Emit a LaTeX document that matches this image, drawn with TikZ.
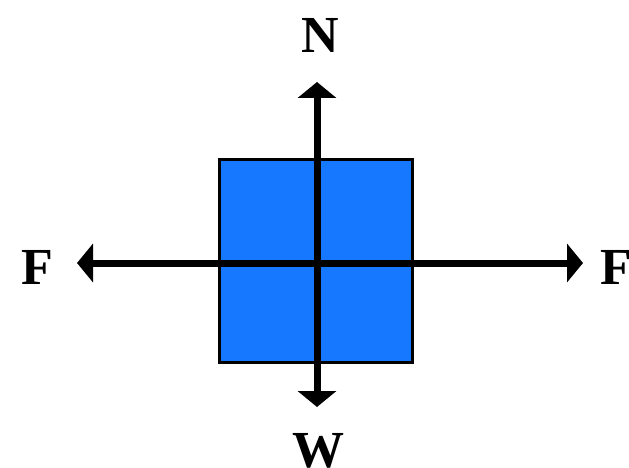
\documentclass[tikz,border=0pt]{standalone}
\usepackage{fontspec}
\setmainfont{Liberation Serif}
\usetikzlibrary{arrows.meta}
\definecolor{boxblue}{RGB}{22,120,255}
\begin{document}
\begin{tikzpicture}[x=1pt,y=-1pt,
  force/.style={line width=7pt,-{Triangle[width=38pt,length=16pt]}},
  lbl/.style={font=\fontsize{52}{60}\selectfont\bfseries,inner sep=0pt,anchor=base},
  block/.style={draw=black,fill=boxblue,line width=3pt,inner sep=0pt,minimum width=193pt,minimum height=203pt}]
\useasboundingbox (0,0) rectangle (629,468);
\node[block] (box) at (316,261) {};
\coordinate (c) at (317,263);
\coordinate (ntip) at (317,82);
\coordinate (stip) at (317,407);
\coordinate (wtip) at (77,263);
\coordinate (etip) at (583,263);
\draw[force] (c) -- (ntip);
\draw[force] (c) -- (stip);
\draw[force] (c) -- (wtip);
\draw[force] (c) -- (etip);
\node[lbl] (n) at (320,53) {N};
\node[lbl] (w) at (318,467) {W};
\node[lbl] (fl) at (37,284) {F};
\node[lbl,anchor=base west] (fr) at (600,284) {F};
\end{tikzpicture}
\end{document}
